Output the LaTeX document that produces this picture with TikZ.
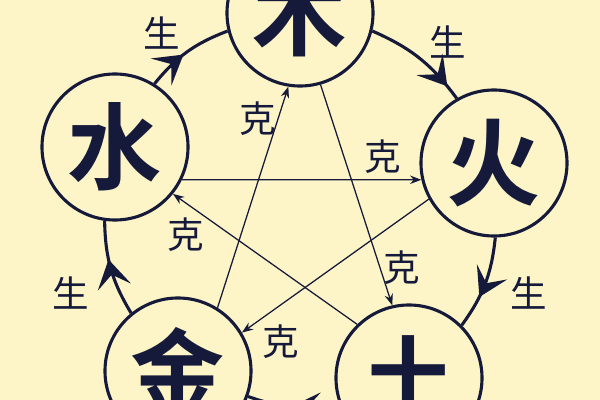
\documentclass[tikz,border=0pt]{standalone}
\usepackage{fontspec}
\newfontfamily\cjk{Noto Sans CJK SC}
\newfontfamily\cjkbold{Noto Sans CJK SC Bold}
\usetikzlibrary{arrows.meta,decorations.markings}
\definecolor{paper}{RGB}{253,245,200}
\definecolor{ink}{RGB}{22,26,58}

\begin{document}
\begin{tikzpicture}[x=0.025cm, y=-0.025cm]
\tikzstyle{element}=[circle, draw=ink, line width=2.2pt, minimum size=3.65cm, inner sep=0pt, text=ink, font=\cjkbold\fontsize{67}{67}\selectfont]
\tikzstyle{lbl}=[inner sep=0pt, text=ink, font=\cjk\fontsize{26}{26}\selectfont]
\tikzstyle{ke}=[draw=ink, line width=0.9pt, -{Stealth[length=8pt,width=6pt]}]
\tikzstyle{sheng}=[draw=ink, line width=2.2pt, bend left=15, postaction={decorate},
  decoration={markings, mark=at position #1 with {\arrow{Stealth[length=20pt,width=24pt,inset=9pt]}}}]

\useasboundingbox (0,0) rectangle (600,400);
\clip (0,0) rectangle (600,400);
\fill[paper] (0,0) rectangle (600,400);

\node[element] (mu)   at (300,13)  {木};
\node[element] (huo)  at (494,163) {火};
\node[element] (tu)   at (409,378) {土};
\node[element] (jin)  at (178,371) {金};
\node[element] (shui) at (115,147) {水};

% sheng cycle
\path
(mu.-14)   edge[sheng=0.86] (huo.120)
(huo.-89)  edge[sheng=0.65] (tu.45)
(tu.-160)  edge[sheng=0.52] (jin.-20)
(jin.129)  edge[sheng=0.6]  (shui.-98)
(shui.58)  edge[sheng=0.45] (mu.194);

% ke star
\path
(shui.-26) edge[ke] (huo.-167)
(mu.-74)   edge[ke] (tu.103)
(huo.-151) edge[ke] (jin.31)
(tu.134)   edge[ke] (shui.-39)
(jin.58)   edge[ke] (mu.-99);

\node[lbl] (s1) at (448,42)  {生};
\node[lbl] (s2) at (529,293) {生};
\node[lbl] (s3) at (71,293)  {生};
\node[lbl] (s4) at (162,33)  {生};

\node[lbl] (k1) at (383,157) {克};
\node[lbl] (k2) at (402,268) {克};
\node[lbl] (k3) at (281,342) {克};
\node[lbl] (k4) at (186,235) {克};
\node[lbl] (k5) at (258,119) {克};
\end{tikzpicture}
\end{document}
